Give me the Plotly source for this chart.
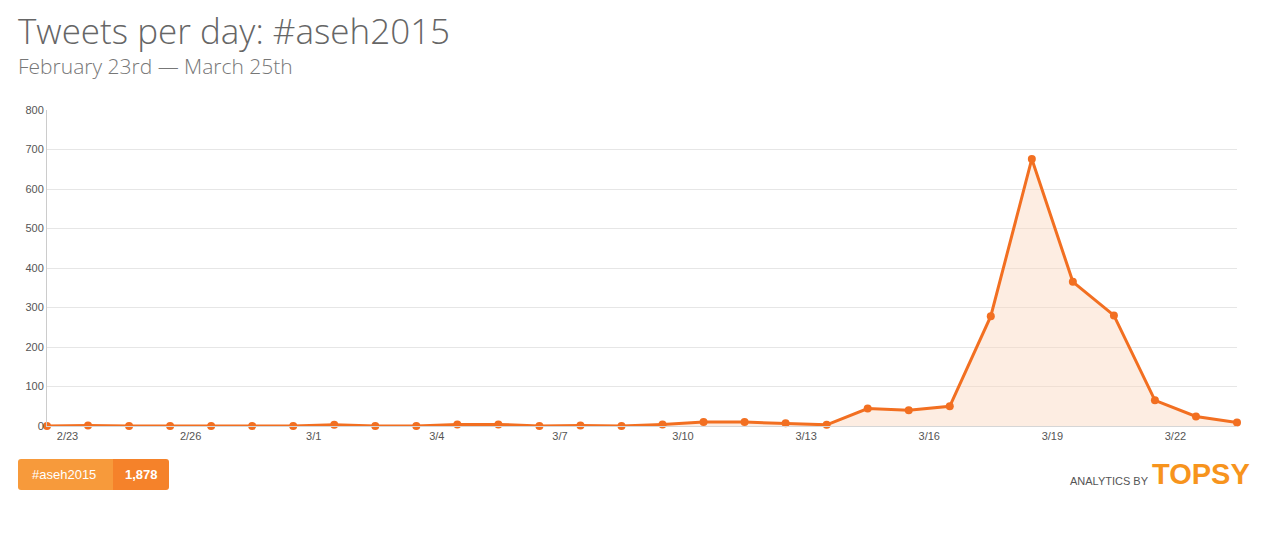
import plotly.graph_objects as go

dates = ["2/23", "2/24", "2/25", "2/26", "2/27", "2/28", "3/1", "3/2", "3/3", "3/4",
         "3/5", "3/6", "3/7", "3/8", "3/9", "3/10", "3/11", "3/12", "3/13", "3/14",
         "3/15", "3/16", "3/17", "3/18", "3/19", "3/20", "3/21", "3/22", "3/23", "3/24"]
tweets = [0, 1, 0, 0, 0, 0, 0, 3, 0, 0,
          4, 4, 0, 1, 0, 4, 10, 10, 7, 3,
          44, 40, 50, 278, 676, 365, 280, 65, 24, 9]
tick_labels = ["2/23", "2/26", "3/1", "3/4", "3/7", "3/10", "3/13", "3/16", "3/19", "3/22"]
y_ticks = [0, 100, 200, 300, 400, 500, 600, 700, 800]
grid_ticks = [100, 200, 300, 400, 500, 600, 700]
hashtag = "#aseh2015"
total = "1,878"

x_idx = list(range(len(dates)))
tick_pos = [dates.index(t) + 0.5 for t in tick_labels]

ORANGE = "#F26F21"

# page body has an 8px margin; figure sized so it fills the 1268x534 window
OFF = 8
W, H = 1268 - OFF * 2, 534 - OFF * 2
L, R, T, B = 47 - OFF, 1237 - OFF, 110 - OFF, 426 - OFF
PW, PH = R - L, B - T


def px_x(p):
    return (p - OFF - L) / PW


def px_y(p):
    return (B - (p - OFF)) / PH


def rounded_rect(x0, x1, y0, y1, r, left=True, right=True):
    """Path (paper coords) for a rect in reference pixels, y0 top, y1 bottom."""
    rx, ry = r / PW, r / PH
    X0, X1, Yt, Yb = px_x(x0), px_x(x1), px_y(y0), px_y(y1)
    p = []
    if left:
        p.append(f"M{X0 + rx},{Yt}")
    else:
        p.append(f"M{X0},{Yt}")
    if right:
        p.append(f"L{X1 - rx},{Yt} Q{X1},{Yt} {X1},{Yt - ry} L{X1},{Yb + ry} Q{X1},{Yb} {X1 - rx},{Yb}")
    else:
        p.append(f"L{X1},{Yt} L{X1},{Yb}")
    if left:
        p.append(f"L{X0 + rx},{Yb} Q{X0},{Yb} {X0},{Yb + ry} L{X0},{Yt - ry} Q{X0},{Yt} {X0 + rx},{Yt} Z")
    else:
        p.append(f"L{X0},{Yb} Z")
    return " ".join(p)


fig = go.Figure()
# invisible trace to anchor the grid axis
fig.add_trace(go.Scatter(x=[x_idx[0]], y=[0], yaxis="y2", mode="markers",
                         marker=dict(opacity=0), showlegend=False, hoverinfo="skip"))
fig.add_trace(go.Scatter(
    x=x_idx, y=tweets, mode="lines+markers",
    line=dict(color=ORANGE, width=3),
    marker=dict(color=ORANGE, size=8),
    fill="tozeroy", fillcolor="rgba(250,215,190,0.45)",
    cliponaxis=False, showlegend=False, hoverinfo="x+y",
))

fig.update_layout(
    width=W, height=H,
    margin=dict(l=L, r=W - R, t=T, b=H - B),
    paper_bgcolor="white", plot_bgcolor="white",
    font=dict(family="Liberation Sans, Arial", size=11, color="#555"),
    xaxis=dict(range=[0, len(dates) - 1], tickvals=tick_pos, ticktext=tick_labels,
               showgrid=False, zeroline=False, showline=True, linecolor="#d6d6d6",
               linewidth=1, ticks="", ticklen=0,
               tickfont=dict(size=11, color="#555")),
    yaxis=dict(range=[0, 800], tickvals=y_ticks, showgrid=False,
               zeroline=False, showline=True, linecolor="#cccccc", linewidth=1,
               ticks="", tickfont=dict(size=11, color="#555")),
    yaxis2=dict(range=[0, 800], overlaying="y", side="left", tickvals=grid_ticks,
                showgrid=True, gridcolor="#e6e6e6", showticklabels=False,
                zeroline=False, showline=False, ticks=""),
)

# Title and subtitle
fig.add_annotation(text="Tweets per day: #aseh2015", xref="paper", yref="paper",
                   x=px_x(17), y=px_y(6), xanchor="left", yanchor="top",
                   showarrow=False, borderpad=0,
                   font=dict(family="Open Sans", size=35, color="#666", weight=300))
fig.add_annotation(text="February 23rd — March 25th", xref="paper", yref="paper",
                   x=px_x(17), y=px_y(51), xanchor="left", yanchor="top",
                   showarrow=False, borderpad=0,
                   font=dict(family="Open Sans", size=21, color="#777", weight=300))

# Legend box
fig.add_shape(type="path", xref="paper", yref="paper",
              path=rounded_rect(18, 113, 459, 490, 3, left=True, right=False),
              fillcolor="#F79A3B", line=dict(width=0), layer="above")
fig.add_shape(type="path", xref="paper", yref="paper",
              path=rounded_rect(113, 169, 459, 490, 3, left=False, right=True),
              fillcolor="#F5822A", line=dict(width=0), layer="above")
fig.add_annotation(text=hashtag, xref="paper", yref="paper",
                   x=px_x(64), y=px_y(474.5), xanchor="center", yanchor="middle",
                   showarrow=False,
                   font=dict(family="Liberation Sans, Arial", size=13, color="white"))
fig.add_annotation(text="<b>" + total + "</b>", xref="paper", yref="paper",
                   x=px_x(141), y=px_y(474.5), xanchor="center", yanchor="middle",
                   showarrow=False,
                   font=dict(family="Liberation Sans, Arial", size=13, color="white"))

# Branding
fig.add_annotation(text="ANALYTICS BY", xref="paper", yref="paper",
                   x=px_x(1151), y=px_y(481), xanchor="right", yanchor="middle",
                   showarrow=False,
                   font=dict(family="Liberation Sans, Arial", size=11, color="#555"))
fig.add_annotation(text="<b>TOPSY</b>", xref="paper", yref="paper",
                   x=px_x(1150), y=px_y(474), xanchor="left", yanchor="middle",
                   showarrow=False,
                   font=dict(family="Liberation Sans, Arial", size=29, color="#F7941D"))

fig.write_html("out.html")
